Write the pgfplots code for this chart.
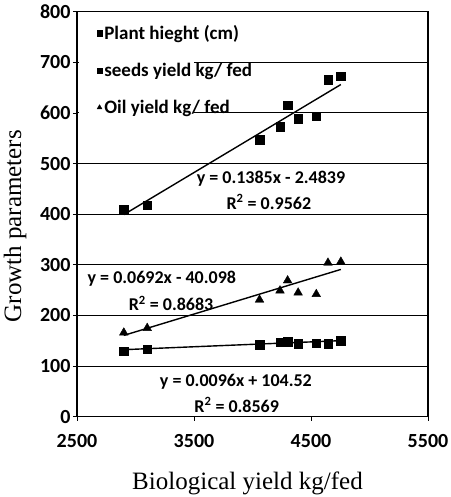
\documentclass[border=0pt]{standalone}
\usepackage{fontspec}
\setmainfont{Liberation Serif}
\newfontfamily\calib{Carlito}
\usepackage{pgfplots}
\pgfplotsset{compat=1.18}
\begin{document}
\begin{tikzpicture}
\begin{axis}[name=ax, scale only axis, width=351pt, height=405pt,
  xmin=2500, xmax=5500, ymin=0, ymax=800,
  xtick={2500,3500,4500,5500}, ytick={0,100,...,800},
  xtick pos=bottom, ytick pos=left, tick align=outside,
  major tick length=4pt,
  ymajorgrids, grid style={black, line width=1.1pt},
  axis line style={black, line width=1.1pt},
  tick style={black, line width=0.8pt},
  /pgf/number format/assume math mode=true,
  /pgf/number format/set thousands separator={},
  tick label style={font=\calib\bfseries\fontsize{20}{20}\selectfont},
  yticklabel style={xshift=1pt},
  xticklabel style={yshift=-10pt},
  legend style={at={(rel axis cs:0.05,0.976)}, anchor=north west, draw=none, fill=none,
    font=\calib\bfseries\fontsize{19}{19}\selectfont, row sep=18pt,
    inner xsep=2pt, inner ysep=2pt},
  legend cell align=left,
  legend image post style={mark size=2.8pt},
]
\fill[white] (axis cs:2515,585) rectangle (axis cs:3500,790);
\addplot[only marks, mark=square*, mark size=4.2pt, black] coordinates {
 (2900,410) (3100,418) (4060,547) (4235,573) (4300,615) (4390,589) (4545,593) (4645,666) (4755,672)};
\addlegendentry{Plant hieght (cm)}
\addplot[only marks, mark=square*, mark size=4.2pt, black] coordinates {
 (2900,129) (3100,133) (4060,142) (4235,147) (4300,148) (4390,144) (4545,145) (4645,144) (4755,150)};
\addlegendentry{seeds yield kg/ fed}
\addplot[only marks, mark=triangle*, mark size=5pt, black] coordinates {
 (2900,166) (3100,175) (4060,231) (4235,249) (4300,269) (4390,245) (4545,242) (4645,304) (4755,306)};
\addlegendentry{Oil yield kg/ fed}
\addplot[black, line width=1.4pt, forget plot] coordinates {(2900,399.2) (4755,656.1)};
\addplot[black, line width=1.4pt, forget plot] coordinates {(2900,160.6) (4755,290.9)};
\addplot[black, line width=1.4pt, forget plot] coordinates {(2900,132.4) (4755,150.2)};
\begin{scope}[every node/.style={font=\calib\bfseries\fontsize{18}{18}\selectfont, inner sep=1pt}]
\node at (axis cs:4158,470) {y = 0.1385x - 2.4839};
\node at (axis cs:4140,424) {R\textsuperscript{2} = 0.9562};
\node at (axis cs:3225,273) {y = 0.0692x - 40.098};
\node at (axis cs:3304,224) {R\textsuperscript{2} = 0.8683};
\node at (axis cs:3858,69) {y = 0.0096x + 104.52};
\node at (axis cs:3865,23) {R\textsuperscript{2} = 0.8569};
\end{scope}
\end{axis}
\node[anchor=base, font=\fontsize{25}{25}\selectfont] at ([xshift=-5pt,yshift=-73pt]ax.south) {Biological yield kg/fed};
\node[rotate=90, font=\fontsize{25}{25}\selectfont] at ([xshift=-62pt,yshift=-12pt]ax.west) {Growth parameters};
\pgfresetboundingbox
\path[use as bounding box] ([xshift=-77pt,yshift=-80.3pt]ax.south west) rectangle ([xshift=22pt,yshift=11.7pt]ax.north east);
\end{tikzpicture}
\end{document}
